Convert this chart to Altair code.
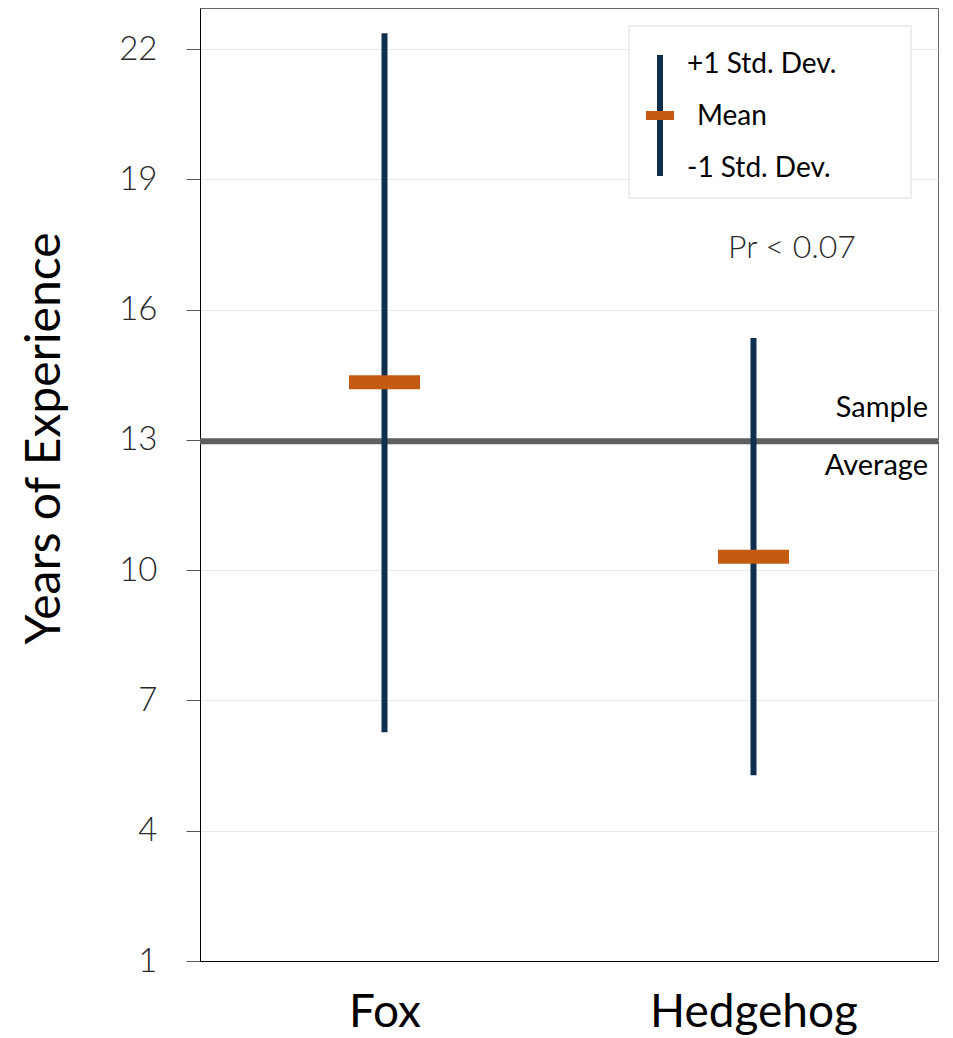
import altair as alt
import pandas as pd

groups = ["Fox", "Hedgehog"]
mean_values = [14.33, 10.31]
upper_values = [22.37, 15.35]
lower_values = [6.27, 5.28]
sample_average = [12.97]
y_ticks = [1, 4, 7, 10, 13, 16, 19, 22]
average_labels = ["Sample", "Average"]
legend_labels = ["+1 Std. Dev.", "Mean", "-1 Std. Dev."]
p_value_label = "Pr < 0.07"

FONT = "Lato"
NAVY = "#0f2f4f"
ORANGE = "#c55a11"
GREY = "#5f5f5f"

df = pd.DataFrame({"group": groups, "mean": mean_values,
                   "upper": upper_values, "lower": lower_values})
avg_df = pd.DataFrame({"avg": sample_average})
one = pd.DataFrame({"k": [0]})

y_scale = alt.Scale(domain=[1, 22.95], nice=False, zero=False)
x_scale = alt.Scale(domain=groups, type="point", padding=0.5)

x_axis = alt.Axis(title=None, labelFontSize=46, labelFont=FONT, labelColor="#000",
                  labelPadding=29, labelLimit=0, ticks=False, domainColor="#000",
                  labelAngle=0, grid=False)
y_axis = alt.Axis(title="Years of Experience", values=y_ticks, titleFont=FONT,
                  titleFontSize=48, titleFontWeight="normal", titleColor="#000",
                  titleX=-131, titleY=430, titleBaseline="bottom",
                  labelFont=FONT, labelFontSize=33, labelFontWeight=300,
                  labelColor="#2a2a2a", labelPadding=29, tickSize=14, tickColor="#555",
                  domainColor="#000", grid=True, gridColor="#e9e9e9")


def Y(field):
    return alt.Y(field, scale=y_scale, axis=y_axis, title="Years of Experience")


def X(field):
    return alt.X(field, scale=x_scale, axis=x_axis, title=None)


avg_rule = alt.Chart(avg_df).mark_rule(color=GREY, strokeWidth=6).encode(
    y=Y("avg:Q")
)

sample_text = alt.Chart(avg_df).mark_text(
    text=average_labels[0], align="right", baseline="alphabetic", dy=-24,
    fontSize=29, font=FONT, color="#000"
).encode(x=alt.value(728), y=Y("avg:Q"))

average_text = alt.Chart(avg_df).mark_text(
    text=average_labels[1], align="right", baseline="alphabetic", dy=34,
    fontSize=29, font=FONT, color="#000"
).encode(x=alt.value(728), y=Y("avg:Q"))

bars = alt.Chart(df).mark_rule(color=NAVY, strokeWidth=6).encode(
    x=X("group:N"),
    y=Y("upper:Q"),
    y2="lower:Q",
)

means = alt.Chart(df).mark_tick(color=ORANGE, thickness=14, size=71, opacity=1).encode(
    x=X("group:N"),
    y=Y("mean:Q"),
)

legend_box = alt.Chart(one).mark_rect(fill="white", stroke="#eeeeee", strokeWidth=2).encode(
    x=alt.value(429), x2=alt.value(711), y=alt.value(18), y2=alt.value(190)
)
legend_line = alt.Chart(one).mark_rule(color=NAVY, strokeWidth=6).encode(
    x=alt.value(460), y=alt.value(47), y2=alt.value(168)
)
legend_mean = alt.Chart(one).mark_rect(color=ORANGE).encode(
    x=alt.value(446), x2=alt.value(474), y=alt.value(103), y2=alt.value(112)
)
legend_pos = [(487, 65), (497, 117), (487, 169)]
legend_texts = [
    alt.Chart(one).mark_text(
        text=lab, align="left", baseline="alphabetic", fontSize=28, font=FONT, color="#000"
    ).encode(x=alt.value(px), y=alt.value(py))
    for lab, (px, py) in zip(legend_labels, legend_pos)
]

p_text = alt.Chart(one).mark_text(
    text=p_value_label, align="center", baseline="alphabetic", fontSize=32, font=FONT,
    fontWeight=300, color="#2a2a2a"
).encode(x=alt.value(592), y=alt.value(250))

chart = alt.layer(
    avg_rule, bars, means, sample_text, average_text,
    legend_box, legend_line, legend_mean, *legend_texts, p_text
).properties(
    width=738, height=953,
    autosize=alt.AutoSizeParams(type="none"),
    padding={"left": 192, "top": 0, "right": 7, "bottom": 77},
).configure_view(stroke="#666", strokeWidth=1)

chart.save("out.html", embed_options={"renderer": "svg", "actions": False})
